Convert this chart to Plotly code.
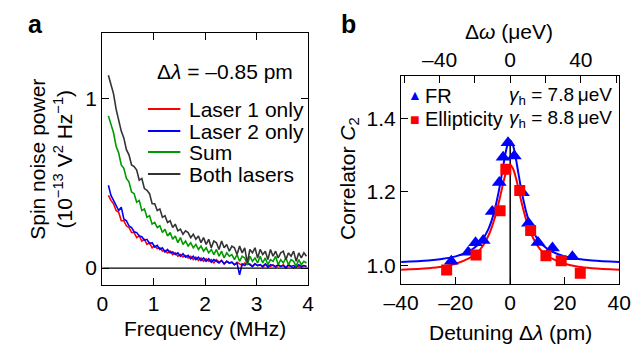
import plotly.graph_objects as go

# ---------------- data: panel a ----------------
freq_mhz = [0.12, 0.17, 0.22, 0.27, 0.32, 0.37, 0.42, 0.47, 0.52, 0.57,
            0.62, 0.67, 0.72, 0.77, 0.82, 0.87, 0.92, 0.97, 1.02, 1.07,
            1.12, 1.17, 1.22, 1.27, 1.32, 1.37, 1.42, 1.47, 1.52, 1.57,
            1.62, 1.67, 1.72, 1.77, 1.82, 1.87, 1.92, 1.97, 2.02, 2.07,
            2.12, 2.17, 2.22, 2.27, 2.32, 2.37, 2.42, 2.47, 2.52, 2.57,
            2.62, 2.67, 2.72, 2.77, 2.82, 2.87, 2.92, 2.97, 3.02, 3.07,
            3.12, 3.17, 3.22, 3.27, 3.32, 3.37, 3.42, 3.47, 3.52, 3.57,
            3.62, 3.67, 3.72, 3.77, 3.82, 3.87, 3.92, 3.97]

laser1_only = [0.43, 0.40, 0.38, 0.34, 0.33, 0.28, 0.28, 0.25, 0.24, 0.21,
               0.21, 0.18, 0.19, 0.16, 0.17, 0.14, 0.15, 0.12, 0.13, 0.115,
               0.12, 0.10, 0.105, 0.09, 0.10, 0.08, 0.09, 0.07, 0.08, 0.065,
               0.075, 0.06, 0.07, 0.05, 0.065, 0.045, 0.06, 0.04, 0.055, 0.04,
               0.05, 0.03, 0.05, 0.035, 0.045, 0.025, 0.04, 0.03, 0.035, 0.02,
               0.035, 0.025, 0.015, 0.03, 0.02, 0.025, 0.01, 0.025, 0.015, 0.02,
               0.005, 0.02, 0.015, 0.01, 0.02, 0.005, 0.015, 0.01, 0.02, 0.005,
               0.015, 0.01, 0.0, 0.015, 0.01, 0.005, 0.015, 0.01]

laser2_only = [0.49, 0.43, 0.40, 0.37, 0.34, 0.36, 0.29, 0.28, 0.25, 0.24,
               0.215, 0.21, 0.19, 0.185, 0.165, 0.17, 0.145, 0.15, 0.125, 0.135,
               0.11, 0.12, 0.095, 0.11, 0.09, 0.095, 0.08, 0.09, 0.07, 0.085,
               0.065, 0.075, 0.055, 0.07, 0.05, 0.065, 0.045, 0.06, 0.04, 0.055,
               0.035, 0.05, 0.04, 0.03, 0.045, 0.025, 0.04, 0.03, 0.035, 0.02,
               0.03, -0.04, 0.025, 0.015, 0.03, 0.02, 0.01, 0.025, 0.015, 0.02,
               0.01, 0.025, 0.005, 0.02, 0.015, 0.01, 0.02, 0.01, 0.015, 0.0,
               0.02, 0.01, 0.015, 0.005, 0.02, 0.01, 0.015, 0.01]

sum_lasers = [0.90, 0.85, 0.80, 0.72, 0.68, 0.61, 0.59, 0.53, 0.51, 0.45,
              0.44, 0.39, 0.40, 0.34, 0.35, 0.30, 0.31, 0.26, 0.27, 0.24,
              0.25, 0.21, 0.23, 0.19, 0.21, 0.17, 0.19, 0.15, 0.18, 0.14,
              0.16, 0.13, 0.15, 0.12, 0.14, 0.11, 0.13, 0.10, 0.12, 0.09,
              0.11, 0.08, 0.11, 0.07, 0.10, 0.06, 0.09, 0.07, 0.08, 0.05,
              0.08, 0.04, 0.07, 0.06, 0.02, 0.07, 0.04, 0.06, 0.03, 0.07,
              0.03, 0.06, 0.02, 0.05, 0.04, 0.07, 0.02, 0.05, 0.03, 0.06,
              0.02, 0.05, 0.04, 0.01, 0.05, 0.02, 0.04, 0.03]

both_lasers = [1.14, 1.09, 1.03, 0.94, 0.88, 0.81, 0.77, 0.70, 0.67, 0.61,
               0.60, 0.58, 0.52, 0.53, 0.47, 0.46, 0.44, 0.38, 0.38, 0.34,
               0.35, 0.30, 0.31, 0.27, 0.28, 0.24, 0.26, 0.22, 0.23, 0.20,
               0.22, 0.21, 0.18, 0.20, 0.17, 0.19, 0.15, 0.18, 0.14, 0.17,
               0.12, 0.16, 0.15, 0.11, 0.16, 0.12, 0.14, 0.10, 0.13, 0.12,
               0.08, 0.13, 0.09, 0.12, 0.03, 0.11, 0.09, 0.12, 0.06, 0.11,
               0.08, 0.10, 0.05, 0.11, 0.07, 0.10, 0.06, 0.09, 0.10, 0.05,
               0.09, 0.07, 0.10, 0.04, 0.09, 0.06, 0.09, 0.07]

series_a = [("Laser 1 only", laser1_only, "#ff0000"),
            ("Laser 2 only", laser2_only, "#0000ff"),
            ("Sum", sum_lasers, "#009a00"),
            ("Both lasers", both_lasers, "#333333")]

# ---------------- data: panel b ----------------
fr_detuning = [-21.6, -15.4, -12.7, -9.9, -6.6, -4.0, -2.6, -0.8, 1.5, 4.5, 6.7, 10.2, 15.5, 22.8]
fr_c2 = [1.012, 1.036, 1.062, 1.068, 1.147, 1.226, 1.294, 1.334, 1.298, 1.198, 1.115, 1.063, 1.048, 1.024]

ell_detuning = [-23.3, -12.5, -3.7, -1.6, 3.5, 7.5, 13.1, 18.7, 25.7]
ell_c2 = [0.988, 1.029, 1.149, 1.262, 1.204, 1.095, 1.027, 1.013, 0.979]

fit_detuning = [-40, -30, -25, -20, -15, -12, -10, -8, -7, -6, -5, -4, -3, -2, -1, 0,
                1, 2, 3, 4, 5, 6, 7, 8, 10, 12, 15, 20, 25, 30, 40]
fr_fit = [1.010, 1.014, 1.018, 1.025, 1.039, 1.055, 1.072, 1.099, 1.118, 1.142, 1.173,
          1.209, 1.251, 1.294, 1.327, 1.340,
          1.327, 1.294, 1.251, 1.209, 1.173, 1.142, 1.118, 1.099, 1.072, 1.055, 1.039,
          1.025, 1.018, 1.014, 1.010]
ell_fit = [0.989, 0.993, 0.997, 1.005, 1.020, 1.036, 1.054, 1.081, 1.099, 1.121, 1.147,
           1.177, 1.210, 1.241, 1.264, 1.273,
           1.264, 1.241, 1.210, 1.177, 1.147, 1.121, 1.099, 1.081, 1.054, 1.036, 1.020,
           1.005, 0.997, 0.993, 0.989]
zero_line_c2 = [0.95, 1.33]
uev_per_pm = 1.544

# ---------------- figure ----------------
# The page body has an 8 px margin, so the figure is drawn 8 px in from the
# window's top-left corner; positions below are given in window pixels.
OFF = 8
W, H = 643 - OFF, 344 - OFF
FONT = "Liberation Sans, Arial, sans-serif"
FS = 21


def fx(p):
    return (p - OFF) / W


def fy(p):
    return 1 - (p - OFF) / H


fig = go.Figure()

for name, vals, col in series_a:
    fig.add_trace(go.Scatter(x=freq_mhz, y=vals, mode="lines", name=name,
                             line=dict(color=col, width=1.6), xaxis="x", yaxis="y",
                             showlegend=False))

fig.add_trace(go.Scatter(x=[0, 4], y=[0, 0], mode="lines", line=dict(color="black", width=1.2),
                         xaxis="x", yaxis="y", showlegend=False, hoverinfo="skip"))

fig.add_trace(go.Scatter(x=fit_detuning, y=ell_fit, mode="lines", line=dict(color="#ff0000", width=2, shape="spline"),
                         xaxis="x2", yaxis="y2", showlegend=False))
fig.add_trace(go.Scatter(x=fit_detuning, y=fr_fit, mode="lines", line=dict(color="#0000ff", width=2, shape="spline"),
                         xaxis="x2", yaxis="y2", showlegend=False))
fig.add_trace(go.Scatter(x=[0, 0], y=zero_line_c2, mode="lines", line=dict(color="black", width=1.5),
                         xaxis="x2", yaxis="y2", showlegend=False))
fig.add_trace(go.Scatter(x=fr_detuning, y=fr_c2, mode="markers", name="FR",
                         marker=dict(symbol="triangle-up", size=13, color="#0000ff"),
                         xaxis="x2", yaxis="y2", showlegend=False))
fig.add_trace(go.Scatter(x=ell_detuning, y=ell_c2, mode="markers", name="Ellipticity",
                         marker=dict(symbol="square", size=11, color="#ff0000"),
                         xaxis="x2", yaxis="y2", showlegend=False))
fig.add_trace(go.Scatter(x=[], y=[], xaxis="x3", yaxis="y2", showlegend=False))

axcommon = dict(showgrid=False, zeroline=False, showline=True, linecolor="black", linewidth=1.2,
                ticks="inside", ticklen=7, tickcolor="black", tickwidth=1.2,
                tickfont=dict(family=FONT, size=FS, color="black"))

fig.update_layout(
    width=W, height=H, margin=dict(l=0, r=0, t=0, b=0),
    paper_bgcolor="white", plot_bgcolor="white",
    font=dict(family=FONT, size=FS, color="black"),
    showlegend=False,
    xaxis=dict(domain=[fx(88), fx(304)], range=[0, 4], tickvals=[0, 1, 2, 3, 4],
               mirror="ticks", anchor="y", **axcommon),
    yaxis=dict(domain=[fy(285), fy(33)], range=[-0.1, 1.39], tickvals=[0, 1],
               mirror="ticks", anchor="x", **axcommon),
    xaxis2=dict(domain=[fx(401.7), fx(630.7)], range=[-40, 40], tickvals=[-40, -20, 0, 20, 40],
                ticktext=["\u201340", "\u201320", "0", "20", "40"],
                mirror=True, anchor="y2", **axcommon),
    yaxis2=dict(domain=[fy(284), fy(76)], range=[0.95, 1.515], tickvals=[1.0, 1.2, 1.4],
                tickformat=".1f", mirror=True, anchor="x2", **axcommon),
    xaxis3=dict(overlaying="x2", side="top", anchor="y2",
                range=[-40 * uev_per_pm, 40 * uev_per_pm],
                tickvals=[-40, 0, 40], ticktext=["\u201340", "0", "40"],
                minor=dict(tick0=0, dtick=20, ticks="inside", ticklen=7,
                           tickcolor="black", tickwidth=1.2, showgrid=False),
                **axcommon),
)

ann = []


def add_text(text, x, y, xanchor="left", yanchor="middle", size=FS, angle=0, color="black"):
    ann.append(dict(text=text, x=fx(x), y=fy(y), xref="paper", yref="paper",
                    xanchor=xanchor, yanchor=yanchor, showarrow=False, textangle=angle,
                    font=dict(family=FONT, size=size, color=color)))


# panel labels (top of the drawing area)
add_text("<b>a</b>", 8, 8, yanchor="top", size=25)
add_text("<b>b</b>", 336, 8, yanchor="top", size=25)

# panel a titles
add_text("Frequency (MHz)", 196, 328, xanchor="center")
add_text("Spin noise power<br>(10<sup>\u221213</sup> V<sup>2</sup> Hz<sup>\u22121</sup>)", 34, 159,
         xanchor="center", angle=-90)
add_text("\u0394<i>\u03bb</i> = \u20130.85 pm", 143, 71)

# panel a legend
rows = [109, 131, 152, 174]
shapes = []
for (name, vals, col), ry in zip(series_a, rows):
    shapes.append(dict(type="line", xref="paper", yref="paper", x0=fx(136), x1=fx(170),
                       y0=fy(ry), y1=fy(ry), line=dict(color=col, width=1.8)))
    add_text(name, 177, ry)

# panel b titles
add_text("Detuning \u0394<i>\u03bb</i> (pm)", 517, 332, xanchor="center")
add_text("\u0394<i>\u03c9</i> (\u03bceV)", 515, 32, xanchor="center")
add_text("Correlator <i>C</i><sub>2</sub>", 347, 178, xanchor="center", angle=-90)

# panel b legend
add_text("\u25b2", 416, 95, xanchor="center", size=14, color="#0000ff")
add_text("FR", 424.5, 96, size=20)
add_text("\u25a0", 416, 120, xanchor="center", size=16, color="#ff0000")
add_text("Ellipticity", 424.5, 119, size=20)
add_text("<i>\u03b3</i><sub>h</sub> = 7.8\u2009\u03bceV", 625, 96, xanchor="right", size=19)
add_text("<i>\u03b3</i><sub>h</sub> = 8.8\u2009\u03bceV", 625, 119, xanchor="right", size=19)

fig.update_layout(annotations=ann, shapes=shapes)

fig.write_html("out.html")
